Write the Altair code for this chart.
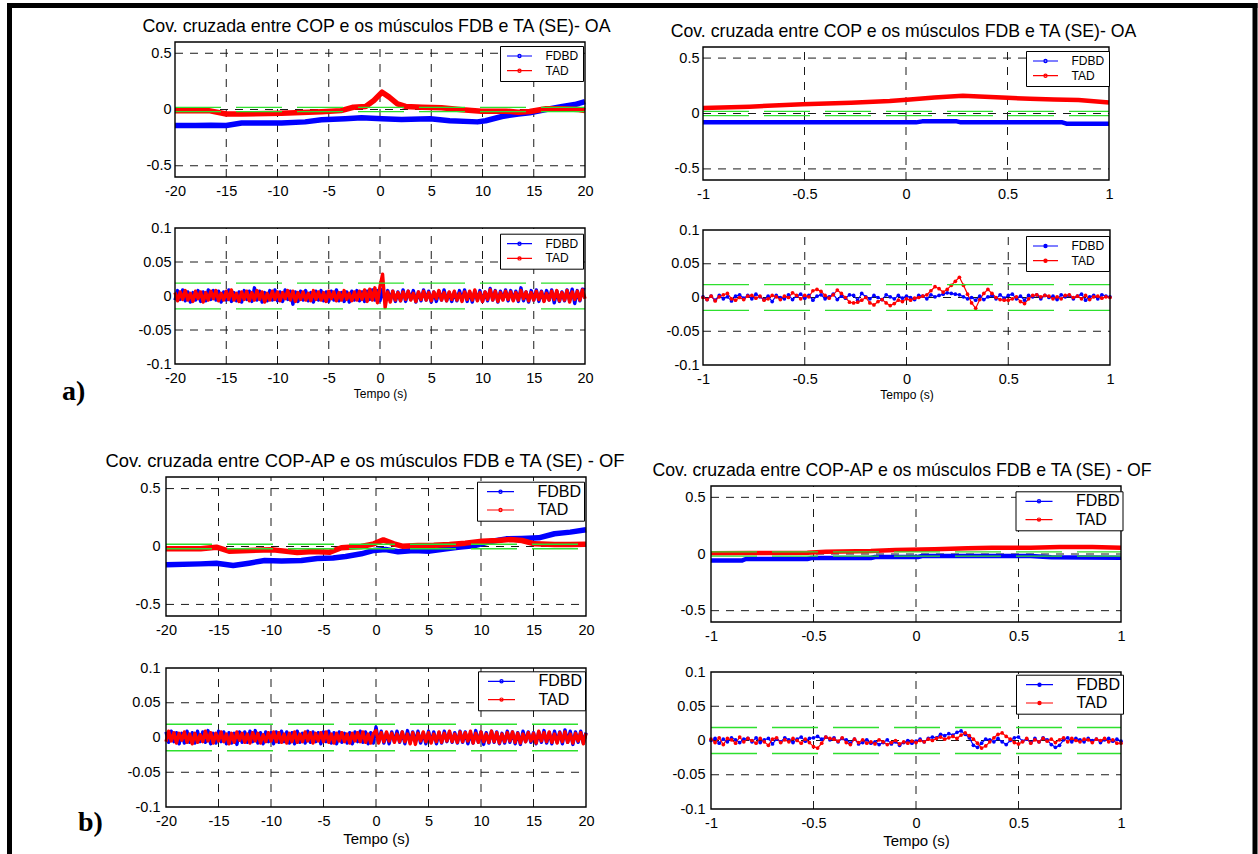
import altair as alt
import pandas as pd

FONT = "Liberation Sans"
BLUE = "#0000ff"
RED = "#ff0000"
GREEN = "#2ee02e"
GRID = "#1a1a1a"
SERIES = ["FDBD", "TAD"]
CONF = [0.019, -0.019]
W, H = 1258, 854

# ---------------- data ----------------
A1_t_fdbd = [-20, -18, -16.5, -15, -13.5, -9.6, -7.3, -5.7, -3.4, -1.8, 0.2, 2.1, 4.9, 6.8, 9.5, 10.3, 11.9, 13.5, 14.6, 16.2, 17.8, 19, 20]
A1_fdbd = [-0.142, -0.143, -0.14, -0.142, -0.12, -0.12, -0.11, -0.092, -0.083, -0.074, -0.083, -0.089, -0.083, -0.10, -0.11, -0.10, -0.062, -0.04, -0.03, 0.0, 0.027, 0.044, 0.07]
A1_t_tad = [-20, -16.7, -15, -13.5, -9.6, -5.7, -3.8, -2.6, -1.4, -0.6, 0.2, 0.9, 1.7, 2.5, 4.1, 6, 8, 9.9, 12.3, 13.5, 14.6, 16.2, 17.8, 19.4, 20]
A1_tad = [-0.01, -0.01, -0.04, -0.04, -0.033, -0.02, -0.01, 0.02, 0.027, 0.08, 0.154, 0.11, 0.05, 0.027, 0.02, 0.015, -0.003, -0.015, -0.015, -0.024, -0.018, 0.006, 0.006, 0.0, -0.01]

A2_t_fdbd = [-1, 0.05, 0.08, 0.25, 0.27, 0.77, 0.79, 1]
A2_fdbd = [-0.08, -0.08, -0.071, -0.071, -0.08, -0.08, -0.092, -0.092]
A2_t_tad = [-1, -0.77, -0.51, -0.27, -0.08, 0.02, 0.14, 0.22, 0.28, 0.36, 0.5, 0.61, 0.73, 0.85, 1]
A2_tad = [0.05, 0.062, 0.083, 0.098, 0.112, 0.127, 0.145, 0.154, 0.16, 0.154, 0.142, 0.133, 0.127, 0.121, 0.10]

B1_t_fdbd = [-20, -16.7, -15.2, -13.6, -12.1, -10.6, -9, -7.1, -5.6, -4.1, -2.9, -1.4, -0.2, 0.9, 2.1, 3.6, 5.1, 6.7, 7.8, 9.3, 10.9, 12.4, 13.9, 15.5, 17, 18.5, 20]
B1_fdbd = [-0.158, -0.15, -0.144, -0.164, -0.144, -0.121, -0.126, -0.121, -0.103, -0.1, -0.086, -0.063, -0.034, -0.026, -0.046, -0.034, -0.04, -0.02, -0.006, 0.006, 0.043, 0.066, 0.069, 0.075, 0.11, 0.124, 0.144]
B1_t_tad = [-20, -16.7, -15.2, -14, -12.1, -9.8, -7.5, -6, -4.4, -3.3, -1.4, -0.2, 0.7, 1.7, 2.5, 4, 5.5, 7, 8.5, 10.1, 11.6, 12.8, 13.9, 15.1, 17, 18.5, 20]
B1_tad = [-0.02, -0.02, -0.006, -0.04, -0.034, -0.029, -0.052, -0.043, -0.049, -0.011, 0.0, 0.023, 0.057, 0.023, 0.003, 0.009, 0.011, 0.017, 0.029, 0.046, 0.052, 0.06, 0.052, 0.023, 0.017, 0.017, 0.02]

B2_t_fdbd = [-1, -0.85, -0.83, -0.53, -0.51, -0.22, -0.2, 0.01, 0.03, 0.56, 0.66, 1]
B2_fdbd = [-0.058, -0.058, -0.044, -0.044, -0.035, -0.035, -0.026, -0.026, -0.018, -0.018, -0.029, -0.032]
B2_t_tad = [-1, -0.81, -0.53, -0.44, -0.22, -0.1, 0.09, 0.25, 0.37, 0.56, 0.7, 0.86, 1]
B2_tad = [0.006, 0.009, 0.012, 0.02, 0.026, 0.035, 0.041, 0.05, 0.056, 0.056, 0.061, 0.061, 0.056]

# lag grids of the sampled covariance (regular sampling of the lag axis)
t_band = [round(-20 + 0.25 * i, 2) for i in range(161)]
t_fine = [round(-1 + 0.02 * i, 2) for i in range(101)]

A3_tad = [
    0.005, -0.007, 0.006, -0.005, 0.008, -0.006, 0.004, -0.008, 0.007, -0.004,
    0.006, -0.009, 0.005, -0.006, 0.007, -0.004, 0.008, -0.007, 0.004, -0.006,
    0.007, -0.005, 0.009, -0.006, 0.004, -0.008, 0.006, -0.005, 0.007, -0.007,
    0.005, -0.006, 0.008, -0.005, 0.006, -0.009, 0.004, -0.006, 0.007, -0.005,
    0.006, -0.007, 0.005, -0.004, 0.008, -0.006, 0.007, -0.008, 0.005, -0.005,
    0.006, -0.006, 0.004, -0.007, 0.008, -0.005, 0.006, -0.006, 0.005, -0.008,
    0.007, -0.004, 0.006, -0.007, 0.005, -0.006, 0.008, -0.005, 0.004, -0.007,
    0.006, -0.006, 0.007, -0.005, 0.009, -0.008, 0.010, -0.006, 0.012, -0.010,
    0.014, 0.032, -0.017, 0.006, -0.009, 0.007, -0.006, 0.005, -0.007, 0.006,
    -0.005, 0.007, -0.006, 0.004, -0.008, 0.006, -0.005, 0.007, -0.006, 0.005,
    -0.007, 0.006, -0.004, 0.008, -0.006, 0.005, -0.007, 0.006, -0.005, 0.007,
    -0.006, 0.004, -0.008, 0.006, -0.005, 0.007, -0.006, 0.009, -0.007, 0.005,
    -0.008, 0.006, -0.005, 0.009, -0.006, 0.007, -0.008, 0.005, -0.006, 0.007,
    -0.005, 0.006, -0.007, 0.005, -0.006, 0.008, -0.004, 0.006, -0.007, 0.005,
    -0.006, 0.007, -0.005, 0.006, -0.008, 0.004, -0.006, 0.007, -0.005, 0.008,
    -0.007, 0.005, -0.006, 0.008, -0.009, 0.006, -0.005, 0.007, -0.006, 0.009,
    -0.004]
A3_fdbd = [
    -0.006, 0.008, -0.005, 0.009, -0.007, 0.006, -0.009, 0.005, -0.006, 0.008,
    -0.008, 0.006, -0.007, 0.009, -0.005, 0.008, -0.006, 0.007, -0.009, 0.006,
    -0.006, 0.009, -0.008, 0.005, -0.007, 0.006, -0.009, 0.008, -0.005, 0.007,
    -0.008, 0.012, -0.006, 0.007, -0.009, 0.005, -0.007, 0.008, -0.006, 0.009,
    -0.007, 0.006, -0.008, 0.009, -0.005, 0.007, -0.012, 0.006, -0.008, 0.007,
    -0.006, 0.008, -0.007, 0.005, -0.009, 0.007, -0.006, 0.008, -0.007, 0.006,
    -0.008, 0.007, -0.006, 0.009, -0.007, 0.005, -0.008, 0.006, -0.009, 0.007,
    -0.006, 0.008, -0.007, 0.006, -0.008, 0.007, -0.005, 0.009, -0.006, 0.008,
    -0.007, 0.010, -0.009, 0.008, -0.006, 0.007, -0.008, 0.006, -0.007, 0.009,
    -0.008, 0.007, -0.005, 0.008, -0.009, 0.006, -0.007, 0.009, -0.006, 0.007,
    -0.009, 0.006, -0.008, 0.007, -0.006, 0.009, -0.007, 0.005, -0.008, 0.006,
    -0.007, 0.008, -0.006, 0.009, -0.008, 0.006, -0.009, 0.007, -0.006, 0.008,
    -0.008, 0.006, -0.007, 0.011, -0.006, 0.008, -0.009, 0.007, -0.005, 0.009,
    -0.007, 0.008, -0.006, 0.007, -0.008, 0.012, -0.007, 0.006, -0.009, 0.008,
    -0.006, 0.009, -0.008, 0.007, -0.007, 0.008, -0.006, 0.009, -0.010, 0.007,
    -0.008, 0.006, -0.007, 0.009, -0.006, 0.010, -0.011, 0.008, -0.007, 0.010,
    0.009]

A4_tad = [
    0.000, -0.003, 0.002, -0.005, 0.001, 0.004, 0.006, -0.002, -0.004, 0.000,
    -0.003, 0.002, 0.003, -0.001, 0.002, -0.004, -0.002, 0.003, 0.001, -0.003,
    0.002, 0.000, 0.007, 0.003, -0.002, 0.003, 0.001, 0.010, 0.012, 0.009,
    0.003, -0.001, 0.004, 0.011, 0.006, 0.000, -0.007, -0.008, -0.007, -0.004,
    0.000, -0.008, -0.011, -0.006, -0.003, -0.008, -0.012, -0.009, -0.004, -0.006,
    -0.002, -0.004, -0.001, 0.000, 0.002, 0.004, 0.010, 0.016, 0.013, 0.008,
    0.012, 0.018, 0.024, 0.030, 0.018, 0.005, -0.008, -0.016, -0.003, 0.006,
    0.012, 0.006, 0.000, -0.003, -0.004, -0.004, -0.002, 0.001, -0.006, -0.009,
    -0.002, 0.003, 0.004, 0.001, 0.003, 0.002, -0.002, 0.001, -0.002, 0.003,
    0.004, 0.000, 0.002, -0.002, 0.003, -0.003, 0.001, 0.002, -0.001, 0.001,
    0.000]
A4_fdbd = [
    0.001, -0.003, 0.002, -0.004, 0.003, -0.002, 0.001, -0.005, 0.002, 0.004,
    -0.001, 0.003, -0.002, 0.005, 0.001, -0.003, 0.002, -0.006, 0.003, 0.000,
    -0.002, 0.004, -0.003, 0.002, 0.005, -0.001, 0.003, -0.004, 0.002, 0.004,
    -0.002, 0.001, 0.005, -0.003, 0.002, -0.001, 0.004, 0.003, -0.004, 0.006,
    0.001, -0.002, 0.003, 0.000, -0.003, 0.004, 0.001, -0.002, 0.003, -0.001,
    0.002, 0.000, -0.003, 0.003, 0.002, -0.002, 0.004, 0.001, 0.003, 0.005,
    0.007, 0.006, 0.005, 0.004, 0.001, -0.002, 0.000, -0.004, 0.002, -0.003,
    0.001, 0.003, -0.002, 0.004, -0.001, 0.003, 0.005, -0.002, 0.002, -0.004,
    0.003, 0.001, 0.004, -0.002, 0.003, 0.000, 0.002, -0.003, 0.004, 0.001,
    0.003, -0.002, 0.002, 0.005, -0.004, 0.001, 0.003, -0.002, 0.004, 0.002,
    0.001]

B3_tad = [
    -0.006, 0.009, -0.005, 0.007, -0.008, 0.006, -0.004, 0.008, -0.007, 0.005,
    -0.009, 0.006, -0.007, 0.004, -0.006, 0.009, -0.005, 0.007, -0.008, 0.006,
    -0.005, 0.008, -0.006, 0.005, -0.009, 0.006, -0.007, 0.008, -0.004, 0.006,
    -0.007, 0.005, -0.008, 0.007, -0.005, 0.006, -0.008, 0.004, -0.006, 0.007,
    -0.005, 0.008, -0.006, 0.007, -0.007, 0.005, -0.008, 0.006, -0.006, 0.008,
    -0.007, 0.005, -0.006, 0.008, -0.005, 0.007, -0.008, 0.006, -0.005, 0.007,
    -0.006, 0.008, -0.007, 0.005, -0.008, 0.006, -0.005, 0.007, -0.006, 0.005,
    -0.008, 0.006, -0.005, 0.007, -0.006, 0.008, -0.007, 0.005, -0.008, 0.006,
    0.010, -0.008, 0.007, -0.006, 0.008, -0.005, 0.006, -0.007, 0.005, -0.006,
    0.008, -0.006, 0.005, -0.009, 0.007, -0.010, 0.006, -0.005, 0.008, -0.006,
    0.007, -0.008, 0.005, -0.006, 0.008, -0.007, 0.006, -0.005, 0.009, -0.006,
    0.005, -0.007, 0.008, -0.006, 0.007, -0.005, 0.009, -0.008, 0.006, -0.007,
    0.008, -0.006, 0.005, -0.007, 0.009, -0.006, 0.007, -0.008, 0.005, -0.006,
    0.007, -0.005, 0.008, -0.007, 0.006, -0.008, 0.005, -0.006, 0.007, -0.005,
    0.006, -0.008, 0.009, -0.005, 0.007, -0.006, 0.008, -0.007, 0.005, -0.008,
    0.007, -0.006, 0.008, -0.007, 0.005, -0.008, 0.006, -0.005, 0.007, -0.009,
    0.006]
B3_fdbd = [
    0.008, -0.007, 0.009, -0.006, 0.007, -0.009, 0.006, -0.008, 0.009, -0.007,
    0.007, -0.008, 0.009, -0.006, 0.008, -0.007, 0.010, -0.009, 0.006, -0.008,
    0.009, -0.006, 0.008, -0.009, 0.007, -0.008, 0.006, -0.010, 0.008, -0.007,
    0.008, -0.007, 0.009, -0.006, 0.010, -0.008, 0.007, -0.009, 0.008, -0.006,
    0.007, -0.009, 0.008, -0.007, 0.009, -0.006, 0.008, -0.008, 0.007, -0.009,
    0.009, -0.007, 0.006, -0.008, 0.009, -0.007, 0.008, -0.006, 0.007, -0.009,
    0.008, -0.006, 0.009, -0.008, 0.007, -0.009, 0.008, -0.007, 0.006, -0.008,
    0.007, -0.009, 0.008, -0.006, 0.009, -0.007, 0.008, -0.009, 0.007, -0.008,
    0.015, -0.007, 0.009, -0.008, 0.007, -0.009, 0.008, -0.006, 0.009, -0.007,
    0.008, -0.009, 0.010, -0.007, 0.008, -0.006, 0.009, -0.008, 0.007, -0.009,
    0.009, -0.007, 0.008, -0.009, 0.007, -0.008, 0.009, -0.006, 0.008, -0.007,
    0.007, -0.008, 0.009, -0.007, 0.008, -0.009, 0.006, -0.008, 0.010, -0.007,
    0.008, -0.010, 0.007, -0.008, 0.009, -0.007, 0.008, -0.009, 0.006, -0.008,
    0.009, -0.007, 0.008, -0.009, 0.007, -0.010, 0.009, -0.006, 0.008, -0.007,
    0.007, -0.009, 0.008, -0.007, 0.010, -0.008, 0.007, -0.009, 0.009, -0.007,
    0.008, -0.009, 0.011, -0.007, 0.009, -0.010, 0.008, -0.007, 0.009, -0.008,
    0.007]

B4_tad = [
    0.002, -0.003, 0.004, -0.006, 0.003, 0.001, -0.004, 0.005, -0.002, 0.003,
    0.000, -0.004, 0.003, -0.002, -0.007, 0.002, 0.004, -0.003, 0.001, -0.002,
    0.003, 0.000, -0.004, 0.002, -0.003, -0.009, -0.011, -0.004, 0.005, 0.003,
    0.002, -0.001, 0.004, -0.003, -0.006, 0.002, -0.003, 0.001, -0.004, -0.002,
    -0.005, 0.001, -0.002, -0.006, -0.003, 0.000, -0.005, -0.002, -0.004, -0.001,
    -0.003, 0.000, -0.002, 0.002, 0.000, 0.003, 0.005, 0.002, 0.004, 0.006,
    0.003, 0.008, 0.011, 0.007, 0.002, -0.004, -0.011, -0.008, -0.002, 0.004,
    0.009, 0.011, 0.006, 0.002, -0.003, -0.005, -0.002, 0.003, -0.004, 0.001,
    -0.002, 0.003, -0.001, 0.002, -0.003, 0.001, 0.004, -0.002, 0.003, 0.000,
    -0.002, 0.002, 0.001, -0.003, 0.002, 0.000, 0.003, -0.002, 0.001, -0.004,
    -0.004]
B4_fdbd = [
    0.000, 0.003, -0.004, 0.002, -0.002, 0.004, 0.001, -0.003, 0.002, 0.003,
    -0.002, 0.004, -0.003, 0.001, 0.003, -0.005, 0.002, -0.002, 0.004, 0.001,
    -0.003, 0.002, 0.005, -0.001, 0.003, 0.004, 0.006, 0.002, 0.005, 0.001,
    0.004, -0.002, 0.003, 0.001, -0.004, 0.002, -0.005, -0.003, 0.001, -0.004,
    -0.002, -0.006, -0.003, 0.001, -0.005, -0.002, -0.007, -0.003, 0.000, -0.004,
    -0.001, 0.002, -0.002, 0.003, 0.005, 0.004, 0.009, 0.007, 0.010, 0.008,
    0.012, 0.014, 0.009, 0.004, -0.007, -0.010, -0.004, 0.002, 0.001, -0.002,
    0.003, -0.002, -0.006, 0.000, 0.004, 0.005, -0.001, 0.002, -0.003, 0.003,
    -0.002, 0.004, 0.001, -0.006, -0.010, -0.007, 0.001, 0.004, -0.002, 0.003,
    0.001, -0.002, 0.003, 0.000, 0.002, -0.003, 0.001, 0.003, -0.001, 0.002,
    -0.001]

TICKS_20 = [-20, -15, -10, -5, 0, 5, 10, 15, 20]
TICKS_1 = [-1, -0.5, 0, 0.5, 1]
YT_BIG = [-0.5, 0, 0.5]
YT_SMALL = [-0.1, -0.05, 0, 0.05, 0.1]

TITLE_A = "Cov. cruzada entre COP e os músculos FDB e TA (SE)- OA"
TITLE_B = "Cov. cruzada entre COP-AP e os músculos FDB e TA (SE) - OF"


def long_df(t1, y1, t2, y2):
    return pd.DataFrame({
        "t": list(t1) + list(t2),
        "v": list(y1) + list(y2),
        "s": ["FDBD"] * len(t1) + ["TAD"] * len(t2),
    })


def sym_path(half):
    r = 0.32
    return (f"M{-half},0L{half},0M{-r},0A{r},{r},0,1,1,{r},0"
            f"A{r},{r},0,1,1,{-r},0Z")


def make_legend(big, lx, ly):
    if big:
        return alt.Legend(title=None, orient="none", legendX=lx, legendY=ly,
                          strokeColor="black", fillColor="white", padding=2,
                          rowPadding=2.3, labelFont=FONT, labelFontSize=16,
                          labelColor="black", symbolType=sym_path(2.7),
                          symbolSize=100, symbolStrokeWidth=1.2,
                          symbolOffset=13.5, labelOffset=29,
                          labelExpr="datum.label + '  '")
    return alt.Legend(title=None, orient="none", legendX=lx, legendY=ly,
                      strokeColor="black", fillColor="white", padding=4,
                      rowPadding=2.7, labelFont=FONT, labelFontSize=12,
                      labelColor="black", symbolType=sym_path(2.5),
                      symbolSize=100, symbolStrokeWidth=1.2,
                      symbolOffset=9.5, labelOffset=20,
                      labelExpr="datum.label + ' '")


def panel(df, rect, xdom, xvals, ydom, yvals, legend, big=False,
          title=None, tsize=17.8, tdx=0.0, xtitle=None, thick=4.5, points=False):
    x0, x1, y0, y1 = rect
    xs = alt.Scale(domain=xdom, range=[x0, x1], nice=False, zero=False)
    ys = alt.Scale(domain=ydom, range=[y1, y0], nice=False, zero=False)
    xkw = dict(orient="bottom", offset=y1 - H, values=xvals,
               labelExpr="toString(datum.value)", grid=False, domain=False,
               ticks=False, labelFlush=False, labelOverlap=False, labelFont=FONT,
               labelFontSize=14.5, labelColor="black", labelPadding=7)
    if xtitle:
        xkw.update(titleFont=FONT, titleFontSize=15 if big else 12,
                   titleFontWeight="normal", titleColor="black", titlePadding=4)
    xenc = alt.X("t:Q", scale=xs, axis=alt.Axis(**xkw),
                 title=xtitle if xtitle else None)
    yenc = alt.Y("v:Q", scale=ys,
                 axis=alt.Axis(orient="left", offset=-x0, values=yvals,
                               labelExpr="toString(datum.value)", grid=False,
                               domain=False, ticks=False, labelFlush=False,
                               labelOverlap=False, labelFont=FONT,
                               labelFontSize=14.5, labelColor="black",
                               labelPadding=6 if big else 4),
                 title=None)
    cenc = alt.Color("s:N", scale=alt.Scale(domain=SERIES, range=[BLUE, RED]),
                     legend=legend)

    xmin, xmax = xdom
    ymin, ymax = ydom
    inner_x = [v for v in xvals if xmin < v < xmax]
    inner_y = [v for v in yvals if ymin < v < ymax]
    vgrid = pd.DataFrame({"t": inner_x, "v": [ymin] * len(inner_x), "v2": [ymax] * len(inner_x)})
    hgrid = pd.DataFrame({"t": [xmin] * len(inner_y), "t2": [xmax] * len(inner_y), "v": inner_y})
    conf = pd.DataFrame({"t": [xmin] * 2, "t2": [xmax] * 2, "v": CONF})
    box = pd.DataFrame({"t": [xmin], "t2": [xmax], "v": [ymin], "v2": [ymax]})

    layers = [
        alt.Chart(vgrid).mark_rule(color=GRID, strokeWidth=1, strokeDash=[8, 7]).encode(
            x=xenc, y=yenc, y2="v2:Q"),
        alt.Chart(hgrid).mark_rule(color=GRID, strokeWidth=1, strokeDash=[8, 7]).encode(
            x=xenc, x2="t2:Q", y=yenc),
        alt.Chart(df).mark_line(strokeWidth=thick, strokeJoin="round").encode(
            x=xenc, y=yenc, color=cenc),
    ]
    if points:
        layers.append(alt.Chart(df).mark_circle(size=14, opacity=1).encode(
            x=xenc, y=yenc, color=cenc))
    layers.append(alt.Chart(conf).mark_rule(color=GREEN, strokeWidth=1.4, strokeDash=[46, 15]).encode(
        x=xenc, x2="t2:Q", y=yenc))
    layers.append(alt.Chart(box).mark_rect(fillOpacity=0, stroke="black", strokeWidth=1.4).encode(
        x=xenc, x2="t2:Q", y=yenc, y2="v2:Q"))
    if title is not None:
        tdf = pd.DataFrame({"t": [(xmin + xmax) / 2], "v": [ymax], "lbl": [title]})
        layers.append(alt.Chart(tdf).mark_text(
            font=FONT, fontSize=tsize, color="black", baseline="alphabetic",
            align="center", dx=tdx, dy=-10).encode(x=xenc, y=yenc, text="lbl:N"))
    return alt.layer(*layers)


A1 = panel(long_df(A1_t_fdbd, A1_fdbd, A1_t_tad, A1_tad), (175, 585, 42, 177),
           [-20, 20], TICKS_20, [-0.6, 0.6], YT_BIG, make_legend(False, 500, 46),
           title=TITLE_A, tsize=17.8, tdx=-3.5, thick=5.5)
A2 = panel(long_df(A2_t_fdbd, A2_fdbd, A2_t_tad, A2_tad), (703, 1109, 47, 180),
           [-1, 1], TICKS_1, [-0.6, 0.6], YT_BIG, make_legend(False, 1026, 51),
           title=TITLE_A, tsize=17.7, tdx=-2.5, thick=4.5)
A3 = panel(long_df(t_band, A3_fdbd, t_band, A3_tad), (175, 585, 228, 364),
           [-20, 20], TICKS_20, [-0.1, 0.1], YT_SMALL, make_legend(False, 500, 233.7),
           xtitle="Tempo (s)", thick=3.4)
A4 = panel(long_df(t_fine, A4_fdbd, t_fine, A4_tad), (703, 1110, 230, 365),
           [-1, 1], TICKS_1, [-0.1, 0.1], YT_SMALL, make_legend(False, 1026, 236),
           xtitle="Tempo (s)", thick=1.2, points=True)
B1 = panel(long_df(B1_t_fdbd, B1_fdbd, B1_t_tad, B1_tad), (166, 586, 477, 616),
           [-20, 20], TICKS_20, [-0.6, 0.6], YT_BIG, make_legend(True, 477, 481.7),
           big=True, title=TITLE_B, tsize=18.4, tdx=-11, thick=5.5)
B2 = panel(long_df(B2_t_fdbd, B2_fdbd, B2_t_tad, B2_tad), (711, 1121, 486, 622),
           [-1, 1], TICKS_1, [-0.6, 0.6], YT_BIG, make_legend(True, 1015.5, 491.3),
           big=True, title=TITLE_B, tsize=17.7, tdx=-14, thick=4.5)
B3 = panel(long_df(t_band, B3_fdbd, t_band, B3_tad), (166, 586, 668, 807),
           [-20, 20], TICKS_20, [-0.1, 0.1], YT_SMALL, make_legend(True, 478, 671.3),
           big=True, xtitle="Tempo (s)", thick=3.4)
B4 = panel(long_df(t_fine, B4_fdbd, t_fine, B4_tad), (711, 1121, 672, 809),
           [-1, 1], TICKS_1, [-0.1, 0.1], YT_SMALL, make_legend(True, 1016, 674.7),
           big=True, xtitle="Tempo (s)", thick=1.2, points=True)

one = pd.DataFrame({"z": [0]})
frame_top = alt.Chart(one).mark_rule(color="black", strokeWidth=5, strokeCap="square").encode(
    x=alt.value(9.5), x2=alt.value(1255), y=alt.value(5.5))
frame_left = alt.Chart(one).mark_rule(color="black", strokeWidth=5, strokeCap="square").encode(
    x=alt.value(9.5), y=alt.value(5.5), y2=alt.value(860))
frame_right = alt.Chart(one).mark_rule(color="black", strokeWidth=5, strokeCap="square").encode(
    x=alt.value(1255), y=alt.value(5.5), y2=alt.value(860))
lab_a = alt.Chart(pd.DataFrame({"l": ["a)"]})).mark_text(
    font="Liberation Serif", fontSize=28, fontWeight="bold", align="left",
    baseline="alphabetic", color="black").encode(
    x=alt.value(62), y=alt.value(400), text="l:N")
lab_b = alt.Chart(pd.DataFrame({"l": ["b)"]})).mark_text(
    font="Liberation Serif", fontSize=28, fontWeight="bold", align="left",
    baseline="alphabetic", color="black").encode(
    x=alt.value(78), y=alt.value(831), text="l:N")

chart = alt.layer(A1, A2, A3, A4, B1, B2, B3, B4,
                  frame_top, frame_left, frame_right, lab_a, lab_b).resolve_scale(
    x="independent", y="independent", color="independent").resolve_legend(
    color="independent").properties(
    width=W, height=H, padding=0, background="white",
    autosize=alt.AutoSizeParams(type="none"),
).configure_view(stroke=None)

chart.save("out.html", embed_options={"renderer": "svg", "actions": False})
